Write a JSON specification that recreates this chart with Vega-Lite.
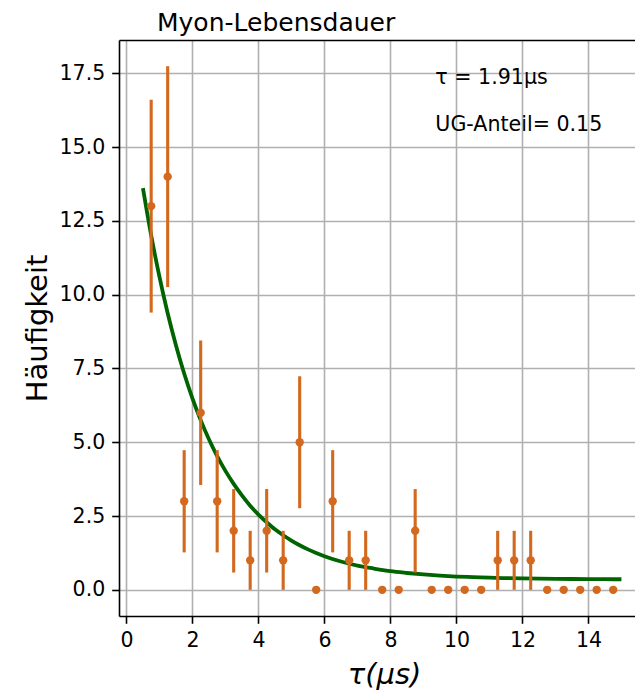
{
  "$schema": "https://vega.github.io/schema/vega-lite/v6.json",
  "width": 516,
  "height": 576,
  "autosize": "none",
  "padding": {"left": 119, "top": 40, "right": 0, "bottom": 74},
  "background": "white",
  "title": {
    "text": "Myon-Lebensdauer",
    "anchor": "start",
    "frame": "group",
    "dx": 38,
    "dy": 26,
    "offset": 5,
    "baseline": "bottom",
    "fontSize": 25,
    "font": "DejaVu Sans",
    "fontWeight": "normal",
    "color": "#000000"
  },
  "config": {
    "view": {"stroke": null},
    "font": "DejaVu Sans",
    "axis": {
      "labelFont": "DejaVu Sans",
      "titleFont": "DejaVu Sans",
      "labelFontSize": 20.5,
      "labelColor": "#000000",
      "titleColor": "#000000",
      "titleFontWeight": "normal",
      "titleFontSize": 29,
      "tickSize": 7.3,
      "tickWidth": 1.6,
      "tickColor": "#000000",
      "domainColor": "#000000",
      "domainWidth": 1.6,
      "gridColor": "#b0b0b0",
      "gridWidth": 1.6,
      "gridOpacity": 1,
      "labelPadding": 7,
      "labelFlush": false,
      "labelOverlap": false
    }
  },
  "datasets": {
    "hist": [
      {"t": 0.75, "n": 13, "lo": 9.394, "hi": 16.606},
      {"t": 1.25, "n": 14, "lo": 10.258, "hi": 17.742},
      {"t": 1.75, "n": 3, "lo": 1.268, "hi": 4.732},
      {"t": 2.25, "n": 6, "lo": 3.551, "hi": 8.449},
      {"t": 2.75, "n": 3, "lo": 1.268, "hi": 4.732},
      {"t": 3.25, "n": 2, "lo": 0.586, "hi": 3.414},
      {"t": 3.75, "n": 1, "lo": 0, "hi": 2},
      {"t": 4.25, "n": 2, "lo": 0.586, "hi": 3.414},
      {"t": 4.75, "n": 1, "lo": 0, "hi": 2},
      {"t": 5.25, "n": 5, "lo": 2.764, "hi": 7.236},
      {"t": 5.75, "n": 0, "lo": 0, "hi": 0},
      {"t": 6.25, "n": 3, "lo": 1.268, "hi": 4.732},
      {"t": 6.75, "n": 1, "lo": 0, "hi": 2},
      {"t": 7.25, "n": 1, "lo": 0, "hi": 2},
      {"t": 7.75, "n": 0, "lo": 0, "hi": 0},
      {"t": 8.25, "n": 0, "lo": 0, "hi": 0},
      {"t": 8.75, "n": 2, "lo": 0.586, "hi": 3.414},
      {"t": 9.25, "n": 0, "lo": 0, "hi": 0},
      {"t": 9.75, "n": 0, "lo": 0, "hi": 0},
      {"t": 10.25, "n": 0, "lo": 0, "hi": 0},
      {"t": 10.75, "n": 0, "lo": 0, "hi": 0},
      {"t": 11.25, "n": 1, "lo": 0, "hi": 2},
      {"t": 11.75, "n": 1, "lo": 0, "hi": 2},
      {"t": 12.25, "n": 1, "lo": 0, "hi": 2},
      {"t": 12.75, "n": 0, "lo": 0, "hi": 0},
      {"t": 13.25, "n": 0, "lo": 0, "hi": 0},
      {"t": 13.75, "n": 0, "lo": 0, "hi": 0},
      {"t": 14.25, "n": 0, "lo": 0, "hi": 0},
      {"t": 14.75, "n": 0, "lo": 0, "hi": 0}
    ],
    "fit": [
      {"t": 0.5, "f": 13.61},
      {"t": 0.75, "f": 12.01},
      {"t": 1.0, "f": 10.61},
      {"t": 1.25, "f": 9.37},
      {"t": 1.5, "f": 8.29},
      {"t": 1.75, "f": 7.33},
      {"t": 2.0, "f": 6.49},
      {"t": 2.25, "f": 5.75},
      {"t": 2.5, "f": 5.10},
      {"t": 2.75, "f": 4.53},
      {"t": 3.0, "f": 4.03},
      {"t": 3.25, "f": 3.59},
      {"t": 3.5, "f": 3.20},
      {"t": 3.75, "f": 2.85},
      {"t": 4.0, "f": 2.55},
      {"t": 4.25, "f": 2.29},
      {"t": 4.5, "f": 2.05},
      {"t": 4.75, "f": 1.85},
      {"t": 5.0, "f": 1.67},
      {"t": 5.25, "f": 1.51},
      {"t": 5.5, "f": 1.37},
      {"t": 5.75, "f": 1.25},
      {"t": 6.0, "f": 1.14},
      {"t": 6.5, "f": 0.96},
      {"t": 7.0, "f": 0.82},
      {"t": 7.5, "f": 0.72},
      {"t": 8.0, "f": 0.63},
      {"t": 8.5, "f": 0.57},
      {"t": 9.0, "f": 0.52},
      {"t": 9.5, "f": 0.48},
      {"t": 10.0, "f": 0.45},
      {"t": 10.5, "f": 0.43},
      {"t": 11.0, "f": 0.41},
      {"t": 11.5, "f": 0.397},
      {"t": 12.0, "f": 0.386},
      {"t": 12.5, "f": 0.378},
      {"t": 13.0, "f": 0.372},
      {"t": 13.5, "f": 0.367},
      {"t": 14.0, "f": 0.363},
      {"t": 14.5, "f": 0.36},
      {"t": 15.0, "f": 0.358}
    ],
    "notes": [
      {"x": 9.36, "y": 17.15, "label": "τ = 1.91μs"},
      {"x": 9.36, "y": 15.55, "label": "UG-Anteil= 0.15"}
    ]
  },
  "resolve": {"axis": {"x": "independent"}},
  "layer": [
    {
      "data": {"name": "fit"},
      "mark": {"type": "line", "color": "#006400", "strokeWidth": 3.8, "interpolate": "monotone", "strokeCap": "butt"},
      "encoding": {
        "x": {
          "field": "t", "type": "quantitative",
          "scale": {"domain": [-0.225, 15.411], "nice": false, "zero": false},
          "axis": {
            "orient": "bottom",
            "values": [0, 2, 4, 6, 8, 10, 12, 14],
            "format": "d",
            "title": "τ(μs)",
            "titleFontStyle": "italic",
            "titleX": 265,
            "titleY": 67,
            "titleBaseline": "alphabetic",
            "titleAlign": "center"
          }
        },
        "y": {
          "field": "f", "type": "quantitative",
          "scale": {"domain": [-0.887, 18.63], "nice": false, "zero": false},
          "axis": {
            "values": [0, 2.5, 5, 7.5, 10, 12.5, 15, 17.5],
            "format": ".1f",
            "title": "Häufigkeit",
            "titleAngle": -90,
            "titleX": -73,
            "titleY": 288,
            "titleBaseline": "alphabetic",
            "titleAlign": "center"
          }
        }
      }
    },
    {
      "data": {"name": "hist"},
      "mark": {"type": "rule", "color": "#d2691e", "strokeWidth": 3.1},
      "encoding": {
        "x": {
          "field": "t", "type": "quantitative",
          "scale": {"domain": [-0.225, 15.411], "nice": false, "zero": false},
          "axis": {"orient": "top", "labels": false, "ticks": false, "grid": false, "domain": true, "title": null}
        },
        "y": {
          "field": "lo", "type": "quantitative",
          "scale": {"domain": [-0.887, 18.63], "nice": false, "zero": false},
          "axis": {
            "values": [0, 2.5, 5, 7.5, 10, 12.5, 15, 17.5],
            "format": ".1f",
            "title": "Häufigkeit",
            "titleAngle": -90,
            "titleX": -73,
            "titleY": 288,
            "titleBaseline": "alphabetic",
            "titleAlign": "center"
          }
        },
        "y2": {"field": "hi"}
      }
    },
    {
      "data": {"name": "hist"},
      "mark": {"type": "point", "filled": true, "color": "#d2691e", "opacity": 1, "size": 70},
      "encoding": {
        "x": {
          "field": "t", "type": "quantitative",
          "scale": {"domain": [-0.225, 15.411], "nice": false, "zero": false},
          "axis": null
        },
        "y": {
          "field": "n", "type": "quantitative",
          "scale": {"domain": [-0.887, 18.63], "nice": false, "zero": false},
          "axis": {
            "values": [0, 2.5, 5, 7.5, 10, 12.5, 15, 17.5],
            "format": ".1f",
            "title": "Häufigkeit",
            "titleAngle": -90,
            "titleX": -73,
            "titleY": 288,
            "titleBaseline": "alphabetic",
            "titleAlign": "center"
          }
        }
      }
    },
    {
      "data": {"name": "notes"},
      "mark": {"type": "text", "align": "left", "baseline": "alphabetic", "font": "DejaVu Sans", "fontSize": 20.6, "color": "#000000"},
      "encoding": {
        "x": {
          "field": "x", "type": "quantitative",
          "scale": {"domain": [-0.225, 15.411], "nice": false, "zero": false},
          "axis": null
        },
        "y": {
          "field": "y", "type": "quantitative",
          "scale": {"domain": [-0.887, 18.63], "nice": false, "zero": false},
          "axis": {
            "values": [0, 2.5, 5, 7.5, 10, 12.5, 15, 17.5],
            "format": ".1f",
            "title": "Häufigkeit",
            "titleAngle": -90,
            "titleX": -73,
            "titleY": 288,
            "titleBaseline": "alphabetic",
            "titleAlign": "center"
          }
        },
        "text": {"field": "label"}
      }
    }
  ]
}
